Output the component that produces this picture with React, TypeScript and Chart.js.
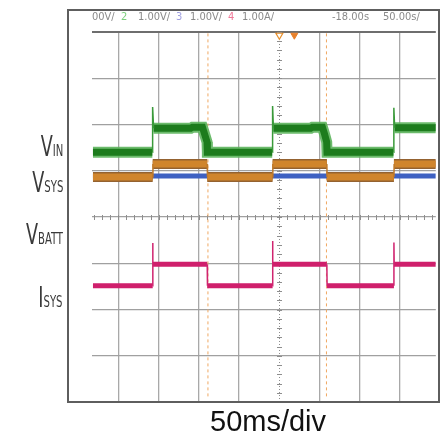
import React, { useEffect, useRef } from "react";
import { Chart, registerables } from "chart.js";

Chart.register(...registerables);

// Horizontal axis: time in ms (0 = trigger, 50 ms/div). Vertical axis: screen divisions from centre.
const X_MIN_MS = -232.7;
const X_MAX_MS = 194.3;
const X_STEP_MS = 50;
const Y_MIN_DIV = -4;
const Y_MAX_DIV = 4;

// trace start, level changes, trace end (ms)
const edgeMs = [-231.5, -157.3, -89.6, -8.4, 59.0, 142.3, 194.3];

// per-interval levels (divisions)
const vsysLevels = [0.865, 1.146, 0.865, 1.146, 0.865, 1.146];
const vbattLevels = [0.886, 0.886, 0.886, 0.886, 0.886, 0.886];
const isysLevels = [-1.485, -1.023, -1.485, -1.023, -1.485, -1.023];
const isysSpikeTops = [-0.56, -0.52, -0.55];

// VIN trace (noisy band with droop before each fall)
const vinBandMs = [-231.5, -157.8, -157.8, -156.2, -110, -108, -95.5, -93.0, -89.8, -89.4, -8.9, -8.9, -7.4, 39, 41, 53.5, 56.0, 58.8, 59.2, 141.7, 141.7, 143.2, 194.3];
const vinBandDiv = [1.40, 1.40, null, 1.92, 1.92, 1.94, 1.94, 1.80, 1.62, 1.40, 1.40, null, 1.92, 1.92, 1.94, 1.94, 1.80, 1.62, 1.40, 1.40, null, 1.93, 1.93];
const vinEdgeMs = [-157.6, -157.4, -156.2, -156.2, -8.6, -8.4, -7.4, -7.4, 142.0, 142.2, 143.2];
const vinEdgeDiv = [1.40, 2.38, 1.92, null, 1.40, 2.40, 1.92, null, 1.40, 2.36, 1.93];

// cursors and top markers
const cursorMs = [-88.7, 58.5];
const triggerMs = [0];
const delayMarkMs = [18.6];
const markerDiv = 3.93;

const headerItems = [
  { text: "00V/", color: "#8a8a8a" },
  { text: "2", color: "#7ccf7c" },
  { text: "1.00V/", color: "#8a8a8a" },
  { text: "3", color: "#a0a0e0" },
  { text: "1.00V/", color: "#8a8a8a" },
  { text: "4", color: "#f07898" },
  { text: "1.00A/", color: "#8a8a8a" },
  { text: "-18.00s", color: "#8a8a8a" },
  { text: "50.00s/", color: "#8a8a8a" },
];
const headerLeft = [92, 121, 138, 176, 190, 228, 242, 332, 383];

const traceLabels = [
  { main: "V", sub: "IN" },
  { main: "V", sub: "SYS" },
  { main: "V", sub: "BATT" },
  { main: "I", sub: "SYS" },
];
const labelTop = [133, 169, 221, 284];

const caption = "50ms/div";

type Pt = { x: number; y: number | null };

function bandPoints(levels: number[]): Pt[] {
  const pts: Pt[] = [];
  levels.forEach((lv, i) => {
    pts.push({ x: edgeMs[i], y: lv }, { x: edgeMs[i + 1], y: lv }, { x: edgeMs[i + 1], y: null });
  });
  return pts;
}

function edgePoints(levels: number[], spikes?: number[]): Pt[] {
  const pts: Pt[] = [];
  let rise = 0;
  for (let j = 1; j < levels.length; j++) {
    const t = edgeMs[j];
    pts.push({ x: t, y: levels[j - 1] });
    if (spikes && levels[j] > levels[j - 1]) {
      pts.push({ x: t, y: spikes[rise] });
      rise++;
    }
    pts.push({ x: t + 0.3, y: levels[j] }, { x: t + 0.3, y: null });
  }
  return pts;
}

function zipPts(xs: number[], ys: (number | null)[]): Pt[] {
  return xs.map((x, i) => ({ x, y: ys[i] }));
}

function cursorPoints(): Pt[] {
  const pts: Pt[] = [];
  cursorMs.forEach((t) => {
    pts.push({ x: t, y: 3.97 }, { x: t, y: -3.92 }, { x: t, y: null });
  });
  return pts;
}

const centreMarks = {
  id: "centreMarks",
  beforeDatasetsDraw(chart: any) {
    const { ctx, chartArea: a, scales } = chart;
    const xs = scales.x;
    const ys = scales.y;
    const x0 = Math.round(xs.getPixelForValue(0)) + 0.5;
    const y0 = Math.round(ys.getPixelForValue(0)) + 0.5;
    ctx.save();
    ctx.strokeStyle = "#8e8e8e";
    ctx.lineWidth = 1;
    ctx.setLineDash([1, 2]);
    ctx.beginPath();
    ctx.moveTo(x0, a.top);
    ctx.lineTo(x0, a.bottom);
    ctx.stroke();
    ctx.setLineDash([]);
    ctx.beginPath();
    for (let k = 0; k <= 40; k++) {
      const v = Y_MIN_DIV + k * 0.2;
      const p = Math.round(ys.getPixelForValue(v)) + 0.5;
      ctx.moveTo(x0 - 2.5, p);
      ctx.lineTo(x0 + 2.5, p);
    }
    for (let k = -30; k <= 30; k++) {
      const t = k * 10;
      if (t < X_MIN_MS || t > X_MAX_MS) continue;
      const p = Math.round(xs.getPixelForValue(t)) + 0.5;
      ctx.moveTo(p, y0 - 2.5);
      ctx.lineTo(p, y0 + 2.5);
    }
    ctx.stroke();
    ctx.restore();
  },
};

const lineBase = {
  type: "line" as const,
  pointRadius: 0,
  tension: 0,
  spanGaps: false,
  fill: false,
  borderCapStyle: "butt" as const,
  borderJoinStyle: "miter" as const,
};

export default function App() {
  const ref = useRef<HTMLCanvasElement>(null);

  useEffect(() => {
    document.body.style.margin = "0";
    const canvas = ref.current;
    if (!canvas) return;
    const vinBand = zipPts(vinBandMs, vinBandDiv);
    const vinEdge = zipPts(vinEdgeMs, vinEdgeDiv);
    const chart = new Chart(canvas, {
      type: "line",
      data: {
        datasets: [
          {
            ...lineBase,
            data: triggerMs.map((x) => ({ x, y: markerDiv })),
            showLine: false,
            pointRadius: 4,
            pointStyle: "triangle",
            rotation: 180,
            pointBackgroundColor: "#ffffff",
            pointBorderColor: "#e8902c",
            pointBorderWidth: 1.2,
          } as any,
          {
            ...lineBase,
            data: delayMarkMs.map((x) => ({ x, y: markerDiv })),
            showLine: false,
            pointRadius: 4,
            pointStyle: "triangle",
            rotation: 180,
            pointBackgroundColor: "#e8802a",
            pointBorderColor: "#e8802a",
            pointBorderWidth: 1,
          } as any,
          { ...lineBase, data: edgePoints(isysLevels, isysSpikeTops), borderColor: "#d0246f", borderWidth: 1.5 },
          { ...lineBase, data: bandPoints(isysLevels), borderColor: "#cf1f6c", borderWidth: 5 },
          { ...lineBase, data: vinEdge, borderColor: "#3a9a3a", borderWidth: 1.5 },
          { ...lineBase, data: vinBand, borderColor: "#1d7c1d", borderWidth: 7 },
          { ...lineBase, data: vinBand, borderColor: "rgba(92,180,92,0.9)", borderWidth: 11 },
          { ...lineBase, data: edgePoints(vsysLevels), borderColor: "#c07a2a", borderWidth: 1.5 },
          { ...lineBase, data: bandPoints(vsysLevels), borderColor: "#d0852c", borderWidth: 7 },
          { ...lineBase, data: bandPoints(vsysLevels), borderColor: "#946230", borderWidth: 10 },
          { ...lineBase, data: bandPoints(vbattLevels), borderColor: "#3e61c2", borderWidth: 5 },
          { ...lineBase, data: cursorPoints(), borderColor: "#f0a862", borderWidth: 1, borderDash: [3, 3] },
        ] as any,
      },
      options: {
        responsive: false,
        animation: false,
        events: [],
        layout: { padding: { left: 92, top: 32, right: 4, bottom: 37 } },
        plugins: { legend: { display: false }, tooltip: { enabled: false }, title: { display: false } },
        scales: {
          x: {
            type: "linear",
            min: X_MIN_MS,
            max: X_MAX_MS,
            ticks: { display: false, stepSize: X_STEP_MS, includeBounds: false },
            grid: {
              drawTicks: false,
              color: (c: any) => (c.tick && c.tick.value === 0 ? "rgba(0,0,0,0)" : "#a8a8a8"),
              lineWidth: 1.3,
            },
            border: { display: false },
          },
          y: {
            type: "linear",
            min: Y_MIN_DIV,
            max: Y_MAX_DIV,
            ticks: { display: false, stepSize: 1, includeBounds: false },
            grid: {
              drawTicks: false,
              color: (c: any) => (c.tick && c.tick.value === Y_MAX_DIV ? "#6e6e6e" : "#a0a0a0"),
              lineWidth: (c: any) => (c.tick && c.tick.value === Y_MAX_DIV ? 2 : 1.2),
            },
            border: { display: false },
          },
        },
      } as any,
      plugins: [centreMarks],
    });
    return () => chart.destroy();
  }, []);

  const narrow = '"Liberation Sans Narrow", "Arial Narrow", "DejaVu Sans Condensed", sans-serif';

  return (
    <div style={{ position: "fixed", left: 0, top: 0, width: 441, height: 439, background: "#fff", overflow: "hidden" }}>
      <canvas ref={ref} width={441} height={439} style={{ position: "absolute", left: 0, top: 0, width: 441, height: 439 }} />
      <div
        style={{
          position: "absolute",
          left: 67,
          top: 9,
          width: 373,
          height: 394,
          border: "2px solid #5e5e5e",
          boxSizing: "border-box",
          pointerEvents: "none",
        }}
      />
      {headerItems.map((h, i) => (
        <div
          key={i}
          style={{
            position: "absolute",
            left: headerLeft[i],
            top: 11,
            fontFamily: narrow,
            fontSize: 11,
            lineHeight: "11px",
            color: h.color,
            whiteSpace: "nowrap",
          }}
        >
          {h.text}
        </div>
      ))}
      {traceLabels.map((l, i) => (
        <div
          key={i}
          style={{
            position: "absolute",
            left: 0,
            width: 63,
            top: labelTop[i],
            textAlign: "right",
            fontFamily: narrow,
            fontSize: 28,
            lineHeight: "28px",
            color: "#3a3a3a",
            whiteSpace: "nowrap",
          }}
        >
          <span style={{ display: "inline-block", transform: "scaleX(0.7)", transformOrigin: "right" }}>
            {l.main}
            <span style={{ fontSize: 16 }}>{l.sub}</span>
          </span>
        </div>
      ))}
      <div
        style={{
          position: "absolute",
          left: 210,
          top: 407,
          fontFamily: '"Liberation Sans", Arial, sans-serif',
          fontSize: 29,
          lineHeight: "29px",
          color: "#111",
          whiteSpace: "nowrap",
        }}
      >
        {caption}
      </div>
    </div>
  );
}
